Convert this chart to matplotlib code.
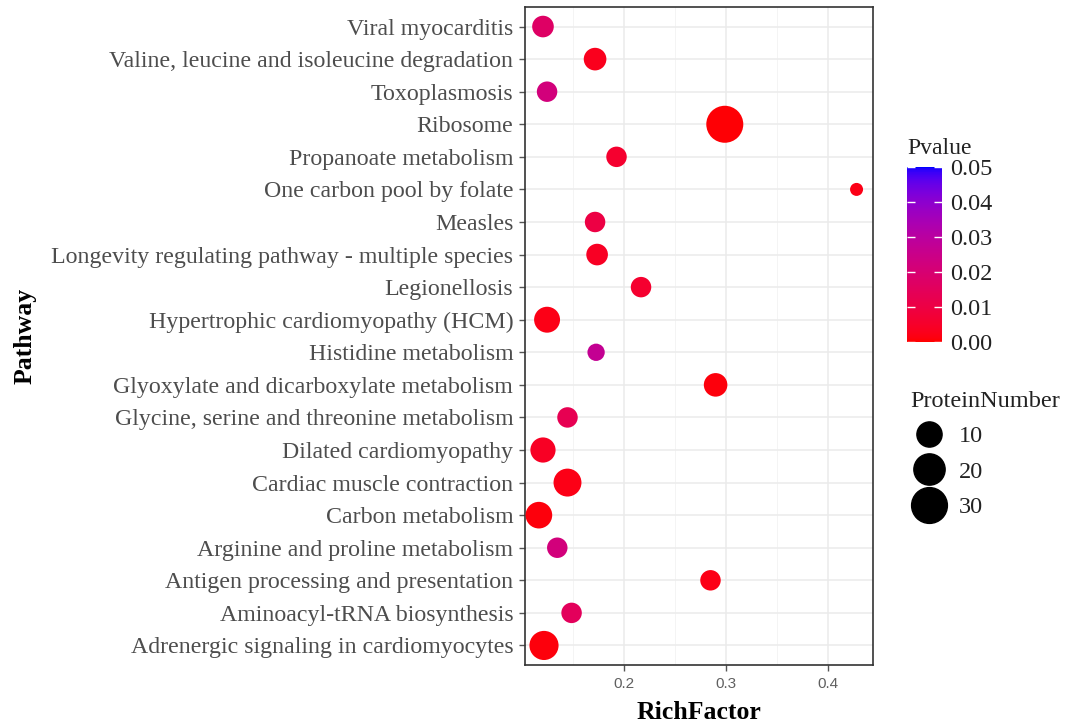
import numpy as np
import matplotlib
matplotlib.use("Agg")
import matplotlib.pyplot as plt
from matplotlib.colors import ListedColormap, Normalize
from matplotlib.cm import ScalarMappable
from matplotlib.lines import Line2D

###############################################################################
#                                    DATA                                     #
###############################################################################
# pathways, listed from top of the chart to bottom
pathways = [
    "Viral myocarditis",
    "Valine, leucine and isoleucine degradation",
    "Toxoplasmosis",
    "Ribosome",
    "Propanoate metabolism",
    "One carbon pool by folate",
    "Measles",
    "Longevity regulating pathway - multiple species",
    "Legionellosis",
    "Hypertrophic cardiomyopathy (HCM)",
    "Histidine metabolism",
    "Glyoxylate and dicarboxylate metabolism",
    "Glycine, serine and threonine metabolism",
    "Dilated cardiomyopathy",
    "Cardiac muscle contraction",
    "Carbon metabolism",
    "Arginine and proline metabolism",
    "Antigen processing and presentation",
    "Aminoacyl-tRNA biosynthesis",
    "Adrenergic signaling in cardiomyocytes",
]
rich_factor = [0.121, 0.172, 0.125, 0.299, 0.193, 0.428, 0.172, 0.174, 0.217, 0.125,
               0.173, 0.290, 0.145, 0.121, 0.145, 0.117, 0.135, 0.285, 0.149, 0.122]
protein_number = [6, 7, 5, 33, 5, 2, 5, 6, 5, 11,
                  3, 8, 5, 10, 14, 12, 5, 5, 5, 16]
pvalue = [0.017, 0.003, 0.022, 0.0005, 0.006, 0.002, 0.010, 0.004, 0.006, 0.002,
          0.027, 0.001, 0.013, 0.004, 0.002, 0.001, 0.022, 0.002, 0.015, 0.001]

size_breaks = [10, 20, 30]
p_breaks = [0.00, 0.01, 0.02, 0.03, 0.04, 0.05]


###############################################################################
#                              HELPER FUNCTIONS                               #
###############################################################################
WHITE = np.array([0.95047, 1.0, 1.08883])
M = np.array([[0.4124564, 0.3575761, 0.1804375],
              [0.2126729, 0.7151522, 0.0721750],
              [0.0193339, 0.1191920, 0.9503041]])


def rgb_to_lab(rgb):
    c = np.asarray(rgb, dtype=float)
    lin = np.where(c <= 0.04045, c / 12.92, ((c + 0.055) / 1.055) ** 2.4)
    xyz = M @ lin / WHITE
    d = 6 / 29
    f = np.where(xyz > d ** 3, np.cbrt(xyz), xyz / (3 * d ** 2) + 4 / 29)
    return np.array([116 * f[1] - 16, 500 * (f[0] - f[1]), 200 * (f[1] - f[2])])


def lab_to_rgb(lab):
    L, a, b = lab
    fy = (L + 16) / 116
    f = np.array([fy + a / 500, fy, fy - b / 200])
    d = 6 / 29
    xyz = np.where(f > d, f ** 3, 3 * d ** 2 * (f - 4 / 29)) * WHITE
    lin = np.clip(np.linalg.solve(M, xyz), 0, 1)
    c = np.where(lin <= 0.0031308, 12.92 * lin, 1.055 * lin ** (1 / 2.4) - 0.055)
    return np.clip(c, 0, 1)


def lab_gradient(low, high, n=256):
    # same idea as ggplot's scale_colour_gradient (interpolation in CIELAB)
    l0, l1 = rgb_to_lab(low), rgb_to_lab(high)
    return ListedColormap([lab_to_rgb(l0 + (l1 - l0) * t) for t in np.linspace(0, 1, n)])


nmin, nmax = min(protein_number), max(protein_number)


def diameter_px(n):
    # area-like size scale (diameter grows with sqrt of the count)
    return 13 + 24 * np.sqrt((np.asarray(n, dtype=float) - nmin) / (nmax - nmin))


###############################################################################
#                                    PLOT                                     #
###############################################################################
W, H = 1079, 724
fig = plt.figure(figsize=(W / 100, H / 100), dpi=100)
ax = fig.add_axes([525 / W, 1 - 665 / H, 348 / W, 658 / H])

cmap = lab_gradient((1, 0, 0), (0, 0, 1))
norm = Normalize(0, 0.05)

ypos = np.arange(len(pathways))[::-1]
sizes = (diameter_px(protein_number) * 0.72) ** 2
ax.scatter(rich_factor, ypos, s=sizes, c=pvalue, cmap=cmap, norm=norm,
           edgecolors="none", zorder=3)

serif = "Liberation Serif"
ax.set_yticks(np.arange(len(pathways)))
ax.set_yticklabels(pathways[::-1], family=serif, fontsize=17.2, color="#4d4d4d")
ax.set_ylim(-0.6, len(pathways) - 0.4)
ax.set_xlim(0.1034, 0.4441)
ax.set_xticks([0.2, 0.3, 0.4])
ax.set_xticklabels(["0.2", "0.3", "0.4"], family="Liberation Sans", fontsize=11,
                   color="#606060")
ax.set_xticks([0.15, 0.25, 0.35], minor=True)
ax.tick_params(axis="both", which="major", length=4, width=1, color="#555555", pad=3)
ax.tick_params(axis="y", which="major", pad=4.5)
ax.tick_params(axis="x", which="major", pad=5)
ax.tick_params(axis="x", which="minor", length=0)

ax.grid(True, which="major", color="#ebebeb", linewidth=1.1, zorder=0)
ax.grid(True, which="minor", axis="x", color="#f2f2f2", linewidth=0.6, zorder=0)
ax.set_axisbelow(True)
for sp in ax.spines.values():
    sp.set_color("#333333")
    sp.set_linewidth(1.2)

ax.set_xlabel("RichFactor", family=serif, fontsize=18.5, fontweight="bold", labelpad=7)
fig.text(25 / W, 1 - 336 / H, "Pathway", family=serif, fontsize=18.5, fontweight="bold",
         rotation=90, ha="center", va="center")

# colour bar legend
cax = fig.add_axes([907 / W, 1 - 342 / H, 35 / W, 175 / H])
cb = fig.colorbar(ScalarMappable(norm=norm, cmap=cmap), cax=cax)
cb.outline.set_visible(False)
cb.set_ticks(p_breaks)
cb.ax.set_yticklabels([f"{v:.2f}" for v in p_breaks], family=serif, fontsize=17.5,
                      color="#222222")
cb.ax.tick_params(direction="in", color="white", length=6, width=1, left=True,
                  right=True, pad=6)
fig.text(907 / W, 1 - 149 / H, "Pvalue", family=serif, fontsize=17, va="center",
         ha="left", color="#222222")

# size legend
handles = [Line2D([], [], linestyle="none", marker="o", color="black",
                  markersize=float(diameter_px(b)) * 0.72) for b in size_breaks]
leg = fig.legend(handles, [str(b) for b in size_breaks], title="ProteinNumber",
                 loc="upper left", bbox_to_anchor=(893 / W, 1 - 374 / H),
                 frameon=False, alignment="left", labelspacing=0.55,
                 handlelength=1.6, handletextpad=0.4, borderpad=0.2,
                 prop={"family": serif, "size": 17.5},
                 title_fontproperties={"family": serif, "size": 17.5})
for t in leg.get_texts():
    t.set_color("#222222")
leg.get_title().set_color("#222222")

fig.savefig("out.png", dpi=100)
